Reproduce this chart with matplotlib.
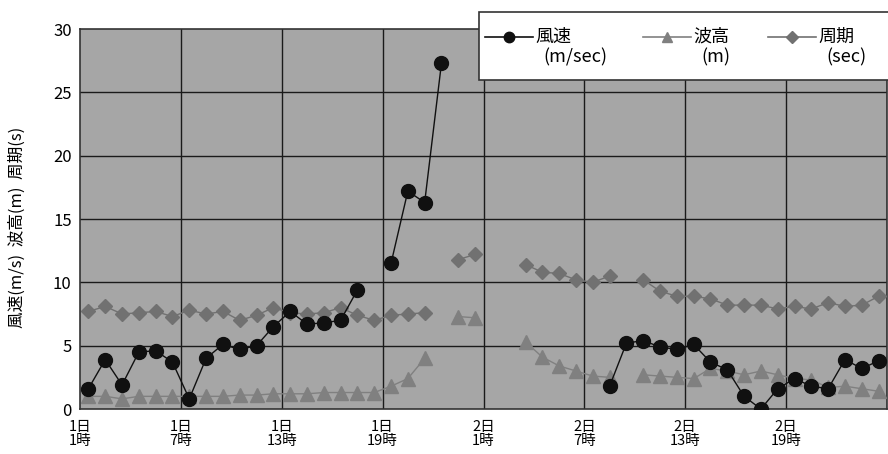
import numpy as np
import matplotlib.pyplot as plt
from matplotlib.lines import Line2D
from matplotlib.patches import Rectangle

plt.rcParams['font.family'] = ['Noto Sans CJK JP', 'DejaVu Sans']

nan = np.nan
# 1日1時 .. 2日24時 (hourly)
wind = [1.6, 3.9, 1.9, 4.5, 4.6, 3.7, 0.8, 4.0, 5.1, 4.7, 5.0, 6.5,
        7.7, 6.7, 6.8, 7.0, 9.4, nan, 11.5, 17.2, 16.3, 27.3, nan, nan,
        nan, nan, nan, nan, nan, nan, nan, 1.8, 5.2, 5.4, 4.9, 4.7,
        5.1, 3.7, 3.1, 1.0, 0.0, 1.6, 2.4, 1.8, 1.6, 3.9, 3.2, 3.8]
wave = [1.0, 1.0, 0.8, 1.0, 1.0, 1.0, 1.0, 1.0, 1.0, 1.1, 1.1, 1.2,
        1.2, 1.2, 1.3, 1.3, 1.3, 1.3, 1.8, 2.4, 4.0, nan, 7.3, 7.2,
        nan, nan, 5.3, 4.1, 3.4, 3.0, 2.6, 2.5, nan, 2.7, 2.6, 2.5,
        2.4, 3.2, 3.0, 2.7, 3.0, 2.7, 2.4, 2.3, 1.7, 1.8, 1.6, 1.4]
period = [7.7, 8.1, 7.5, 7.6, 7.7, 7.3, 7.8, 7.5, 7.7, 7.0, 7.4, 8.0,
          7.6, 7.5, 7.6, 8.0, 7.4, 7.0, 7.4, 7.5, 7.6, nan, 11.8, 12.2,
          nan, nan, 11.4, 10.8, 10.7, 10.2, 10.0, 10.5, nan, 10.2, 9.3, 8.9,
          8.9, 8.7, 8.2, 8.2, 8.2, 7.9, 8.1, 7.9, 8.4, 8.1, 8.2, 8.9]
tick_labels = ['1日\n1時', '1日\n7時', '1日\n13時', '1日\n19時',
               '2日\n1時', '2日\n7時', '2日\n13時', '2日\n19時']
names = ['風速', '波高', '周期']
units = ['(m/sec)', '(m)', '(sec)']

W, H = 888, 454
x = np.arange(len(wind))

fig = plt.figure(figsize=(W / 100, H / 100), dpi=100)
ax = fig.add_axes([80 / W, 45 / H, 807 / W, 380 / H])
ax.set_facecolor('#a6a6a6')

styles = [dict(color='#101010', marker='o', ms=10, zorder=4),
          dict(color='#808080', marker='^', ms=9.5, zorder=3),
          dict(color='#717171', marker='D', ms=7.5, zorder=3)]
for ys, st in zip([wind, wave, period], styles):
    ax.plot(x, ys, lw=1.0, **st)

ax.set_xlim(-0.5, len(x) - 0.5)
ax.set_ylim(0, 30)
ax.set_yticks(range(0, 31, 5))
grid_x = np.arange(-0.5, len(x), 6)
ax.set_xticks(grid_x[:len(tick_labels)])
ax.set_xticklabels(tick_labels, linespacing=1.0)
ax.tick_params(axis='y', length=0, labelsize=12, pad=6)
ax.tick_params(axis='x', length=0, labelsize=10.5, pad=8)
for gx in grid_x[1:]:
    ax.axvline(gx, color='#1a1a1a', lw=1.0, zorder=1)
for gy in range(5, 30, 5):
    ax.axhline(gy, color='#1a1a1a', lw=1.0, zorder=1)
for s in ax.spines.values():
    s.set_color('#333333')
    s.set_linewidth(1.2)

fig.text(17 / W, 1 - 227 / H, '風速(m/s)  波高(m)  周期(s)', rotation=90,
         ha='center', va='center', fontsize=12)

# legend box drawn by hand (two-line labels beside the marker)
fig.patches.append(Rectangle((479 / W, 1 - 80 / H), 420 / W, 68 / H,
                             transform=fig.transFigure, facecolor='white',
                             edgecolor='#333333', lw=1.2, zorder=10))
leg_x = [485, 643, 768]
for lx, st, nm, un in zip(leg_x, styles, names, units):
    yy = 1 - 37 / H
    fig.lines.append(Line2D([lx / W, (lx + 48) / W], [yy, yy],
                            transform=fig.transFigure, lw=1.2,
                            color=st['color'], marker=st['marker'],
                            markevery=[], zorder=11))
    fig.lines.append(Line2D([(lx + 24) / W], [yy], transform=fig.transFigure,
                            color=st['color'], marker=st['marker'],
                            ms=st['ms'] * 0.75, zorder=12))
    fig.text((lx + 50) / W, yy, nm, ha='left', va='center', fontsize=13,
             zorder=12)
    fig.text((lx + 58) / W, 1 - 57 / H, un, ha='left', va='center',
             fontsize=13, zorder=12)

fig.savefig('out.png', dpi=100)
